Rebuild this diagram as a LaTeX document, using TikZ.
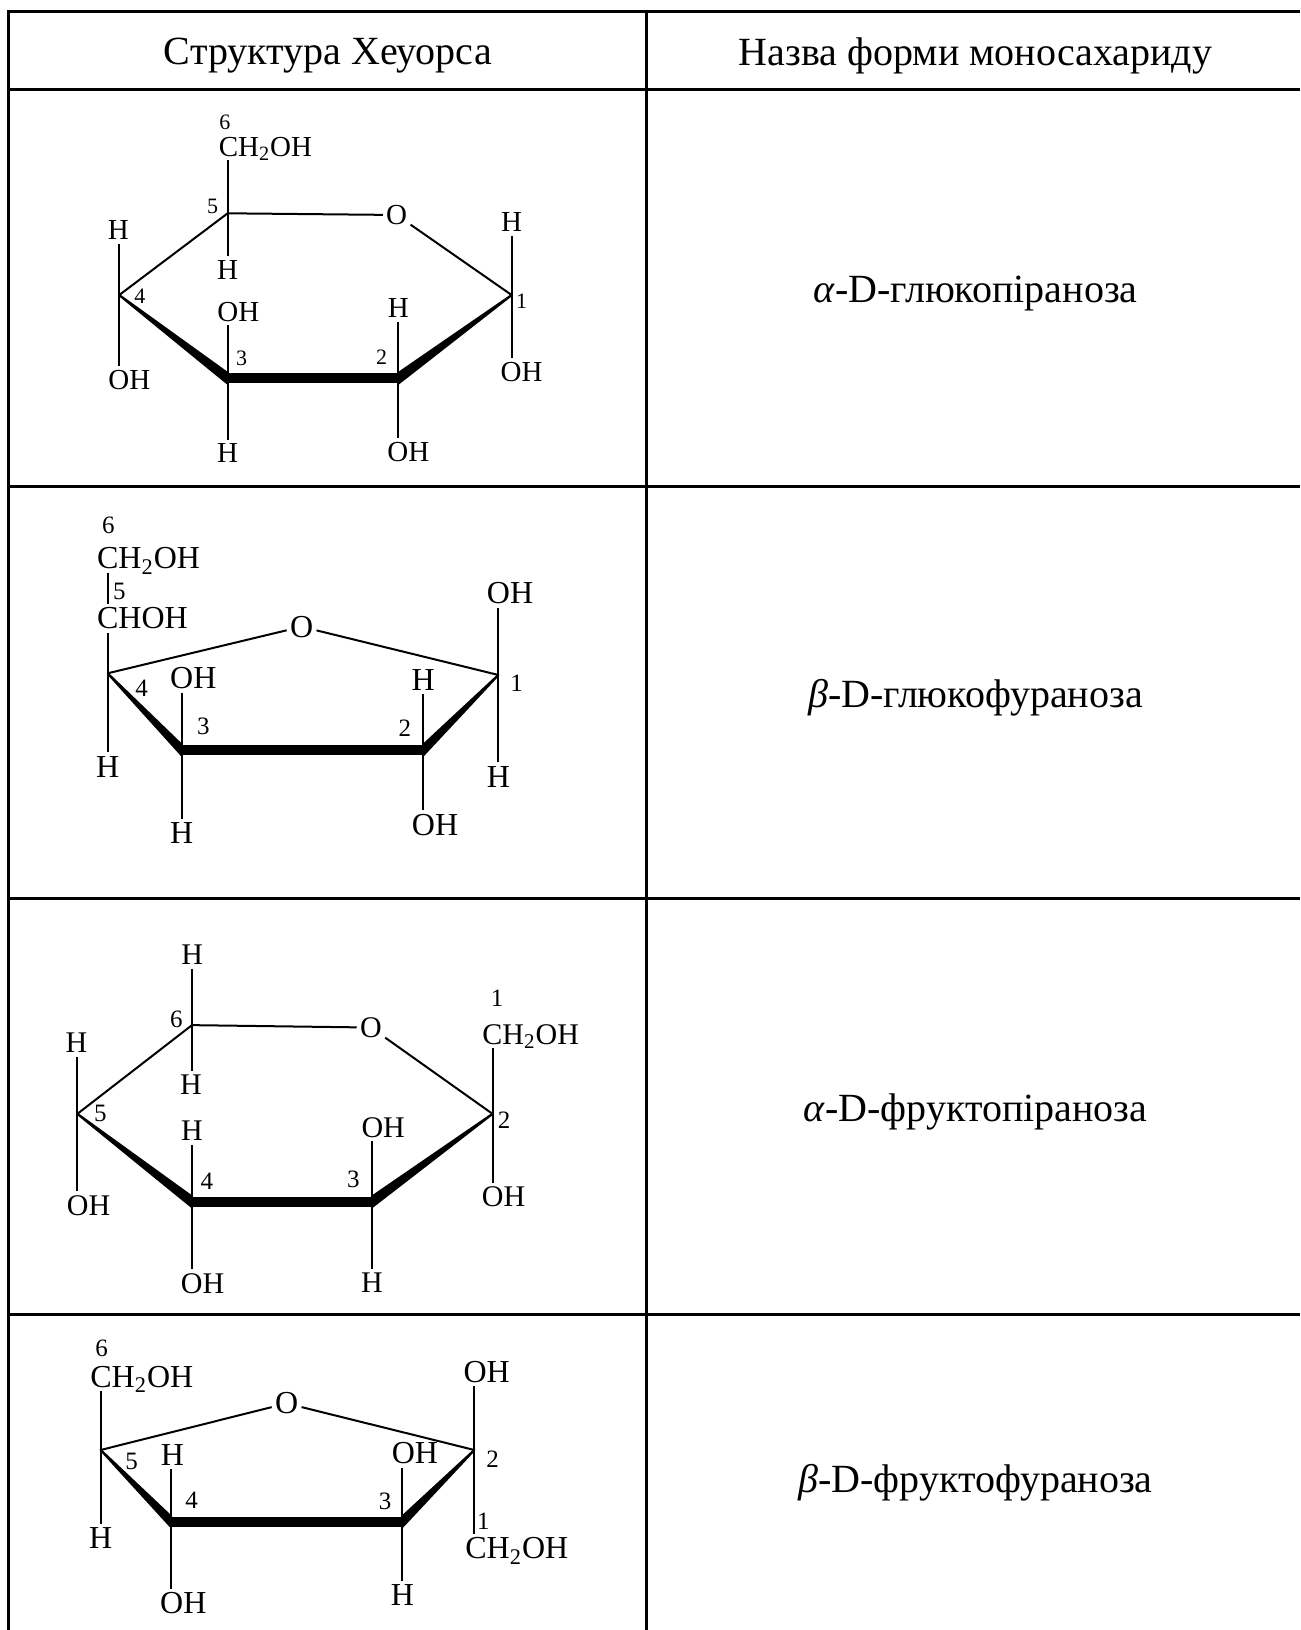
\documentclass[tikz,border=0pt]{standalone}
\usepackage{fontspec}
\setmainfont{Liberation Serif}
\usetikzlibrary{calc}
\tikzset{
  bond/.style={line width=1pt},
  boldbond/.style={line width=5pt},
  wedgeshape/.style={fill=black, draw=black, line width=1.1pt, line join=round},
  gridline/.style={line width=1.5pt},
  lbl/.style={inner xsep=0pt, inner ysep=1.8pt, text depth=0pt},
  atA/.style={lbl, font=\fontsize{14.5}{16}\selectfont},
  atB/.style={lbl, font=\fontsize{16}{18}\selectfont},
  atC/.style={lbl, font=\fontsize{15}{17}\selectfont},
  numA/.style={inner sep=0pt, font=\fontsize{11}{12}\selectfont},
  numB/.style={inner sep=0pt, font=\fontsize{12.5}{14}\selectfont},
  oxy/.style={inner xsep=1.5pt},
  head/.style={inner sep=0pt, font=\fontsize{20}{24}\selectfont},
}
\newcommand\wedgebond[2]{\path[wedgeshape] (#1) -- ([yshift=2.6pt]#2) -- ([yshift=-2.6pt]#2) -- cycle;}
\newcommand\chtwooh{CH\textsubscript{2}OH}
\begin{document}
\begin{tikzpicture}[x=0.52pt, y=-0.52pt]
\useasboundingbox (0,0) rectangle (1250,1567.3);
% table grid
\draw[gridline] (8.65,1567.3) -- (8.65,11.5) -- (1250,11.5);
\foreach \yy in {86.5,468,864.4,1263.5} \draw[gridline] (8.65,\yy) -- (1250,\yy);
\draw[gridline] (622,11.5) -- (622,1567.3);
% headers
\node[head] (hd1) at (315.3,53.5) {Структура Хеуорса};
\node[head] (hd2) at (938,53.5) {Назва форми моносахариду};
\node[head] (nm1) at (938,282.5) {\textit{α}-D-глюкопіраноза};
\node[head] (nm2) at (938,670.5) {\textit{β}-D-глюкофураноза};
\node[head] (nm3) at (938,1069.5) {\textit{α}-D-фруктопіраноза};
\node[head] (nm4) at (938,1425.5) {\textit{β}-D-фруктофураноза};

% ===== Structure 1: alpha-D-glucopyranose
\coordinate (a5) at (218.9,205.1);
\coordinate (a1) at (492,283.7);
\coordinate (a2) at (383,363.8);
\coordinate (a3) at (218.9,363.8);
\coordinate (a4) at (114.6,283.7);
\node[atA, oxy] (ao) at (381.4,206.7) {O};
\node[numA] (an6) at (216.3,117.5) {6};
\node[atA, anchor=west] (ach) at (210,141) {\chtwooh};
\node[atA] (ah5) at (218.9,259.6) {H};
\node[numA] (an5) at (204.5,198.7) {5};
\node[atA] (ah1) at (492,213.5) {H};
\node[atA] (aoh1) at (501.6,357.4) {OH};
\node[numA] (an1) at (501.6,290) {1};
\node[atA] (ah4) at (113.8,221.2) {H};
\node[atA] (aoh4) at (124.4,365.4) {OH};
\node[numA] (an4) at (134.6,285.3) {4};
\node[atA] (aoh3) at (229.2,299.7) {OH};
\node[atA] (ah3) at (218.9,435.9) {H};
\node[numA] (an3) at (232.4,344.6) {3};
\node[atA] (ah2) at (383,296.5) {H};
\node[atA] (aoh2) at (392.6,434.3) {OH};
\node[numA] (an2) at (367,343) {2};
\draw[bond] (a4) -- (a5) -- (ao) -- (a1);
\draw[bond] (a5 |- ach.south) -- (a5 |- ah5.north);
\draw[bond] (a1 |- ah1.south) -- (a1 |- aoh1.north);
\draw[bond] (a4 |- ah4.south) -- (a4 |- aoh4.north);
\draw[bond] (a3 |- aoh3.south) -- (a3 |- ah3.north);
\draw[bond] (a2 |- ah2.south) -- (a2 |- aoh2.north);
\wedgebond{a4}{a3}
\wedgebond{a1}{a2}
\draw[boldbond] (a3) -- (a2);

% ===== Structure 2: beta-D-glucofuranose
\coordinate (b4) at (103.5,647.4);
\coordinate (b1) at (479.2,649);
\coordinate (b2) at (407,721.2);
\coordinate (b3) at (174.7,721.2);
\node[atB, oxy] (bo) at (290,602.6) {O};
\node[numB] (bn6) at (104.2,504.8) {6};
\node[atB, anchor=west] (bch) at (93,536.9) {\chtwooh};
\node[numB] (bn5) at (114.7,568.9) {5};
\node[atB, anchor=west] (bchoh) at (93,594.6) {CHOH};
\node[atB] (bh4) at (103.5,737.2) {H};
\node[numB] (bn4) at (136.2,661.9) {4};
\node[atB] (boh1) at (490.4,570.5) {OH};
\node[atB] (bh1) at (479.2,746.8) {H};
\node[numB] (bn1) at (496.8,657) {1};
\node[atB] (boh3) at (185.9,652.2) {OH};
\node[atB] (bh3) at (174.7,801.3) {H};
\node[numB] (bn3) at (195.5,698.7) {3};
\node[atB] (bh2) at (407,653.8) {H};
\node[atB] (boh2) at (418.3,793.3) {OH};
\node[numB] (bn2) at (389.4,700.3) {2};
\draw[bond] (b4 |- bch.south) -- (b4 |- bchoh.north);
\draw[bond] (b4 |- bchoh.south) -- (b4 |- bh4.north);
\draw[bond] (b4) -- (bo) -- (b1);
\draw[bond] (b1 |- boh1.south) -- (b1 |- bh1.north);
\draw[bond] (b3 |- boh3.south) -- (b3 |- bh3.north);
\draw[bond] (b2 |- bh2.south) -- (b2 |- boh2.north);
\wedgebond{b4}{b3}
\wedgebond{b1}{b2}
\draw[boldbond] (b3) -- (b2);

% ===== Structure 3: alpha-D-fructopyranose
\coordinate (c6) at (184.6,985.7);
\coordinate (c2) at (473.6,1071);
\coordinate (c3) at (357.7,1155.6);
\coordinate (c4) at (184.6,1155.6);
\coordinate (c5) at (74.4,1071);
\node[atC, oxy] (co) at (356.7,988) {O};
\node[atC] (chtop) at (184.7,918) {H};
\node[atC] (chbot) at (183.7,1043.3) {H};
\node[numB] (cn6) at (169.5,980.5) {6};
\node[numB] (cn1) at (478.1,960.3) {1};
\node[atC, anchor=west] (cch) at (463.5,994.5) {\chtwooh};
\node[atC] (coh2) at (484.2,1150.7) {OH};
\node[numB] (cn2) at (484.8,1077.5) {2};
\node[atC] (ch5) at (73.4,1002.6) {H};
\node[atC] (coh5) at (85.2,1158.8) {OH};
\node[numB] (cn5) at (96.4,1071) {5};
\node[atC] (ch4) at (184.6,1087.2) {H};
\node[atC] (coh4) at (194.8,1233.7) {OH};
\node[numB] (cn4) at (199,1136) {4};
\node[atC] (coh3) at (368.5,1084) {OH};
\node[atC] (ch3) at (357.7,1233.7) {H};
\node[numB] (cn3) at (339.8,1134.4) {3};
\draw[bond] (c6 |- chtop.south) -- (c6 |- chbot.north);
\draw[bond] (c5) -- (c6) -- (co) -- (c2);
\draw[bond] (c2 |- cch.south) -- (c2 |- coh2.north);
\draw[bond] (c5 |- ch5.south) -- (c5 |- coh5.north);
\draw[bond] (c4 |- ch4.south) -- (c4 |- coh4.north);
\draw[bond] (c3 |- coh3.south) -- (c3 |- ch3.north);
\wedgebond{c5}{c4}
\wedgebond{c2}{c3}
\draw[boldbond] (c4) -- (c3);

% ===== Structure 4: beta-D-fructofuranose
\coordinate (d5) at (96.8,1394.2);
\coordinate (d2) at (456.1,1394.2);
\coordinate (d3) at (386.9,1463.1);
\coordinate (d4) at (164.4,1463.1);
\node[atB, oxy] (do) at (275.6,1349.4) {O};
\node[numB] (dn6) at (97.8,1296.5) {6};
\node[atB, anchor=west] (dch6) at (86.5,1323.7) {\chtwooh};
\node[atB] (dh5) at (96.8,1479.2) {H};
\node[numB] (dn5) at (126.6,1405.4) {5};
\node[atB] (doh2) at (468,1318.9) {OH};
\node[numB] (dn1) at (464.7,1463.1) {1};
\node[atB, anchor=west] (dch1) at (447.1,1488.8) {\chtwooh};
\node[numB] (dn2) at (473.7,1403.2) {2};
\node[atB] (dh4) at (165.7,1399) {H};
\node[atB] (doh4) at (176.3,1541.7) {OH};
\node[numB] (dn4) at (184.3,1442.3) {4};
\node[atB] (doh3) at (399,1397.4) {OH};
\node[atB] (dh3) at (386.9,1533.7) {H};
\node[numB] (dn3) at (370.2,1443.9) {3};
\draw[bond] (d5 |- dch6.south) -- (d5 |- dh5.north);
\draw[bond] (d5) -- (do) -- (d2);
\draw[bond] (d2 |- doh2.south) -- (d2 |- dch1.north);
\draw[bond] (d4 |- dh4.south) -- (d4 |- doh4.north);
\draw[bond] (d3 |- doh3.south) -- (d3 |- dh3.north);
\wedgebond{d5}{d4}
\wedgebond{d2}{d3}
\draw[boldbond] (d4) -- (d3);
\end{tikzpicture}
\end{document}
